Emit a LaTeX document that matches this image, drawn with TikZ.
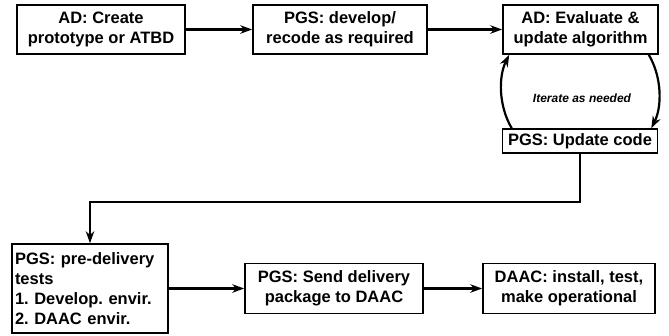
\documentclass[tikz,border=0pt]{standalone}
\usepackage{fontspec}
\setmainfont{Liberation Sans}
\usetikzlibrary{arrows.meta}
\frenchspacing
\begin{document}
\begin{tikzpicture}[x=1pt,y=-1pt,
  box/.style={draw,line width=1.6pt,font=\bfseries\fontsize{16.5}{20}\selectfont,align=center,inner sep=2pt},
  conn/.style={line width=2.2pt,-{Stealth[length=12pt,width=8.5pt]}},
  lbl/.style={font=\bfseries\itshape\fontsize{12}{14}\selectfont}
]
\useasboundingbox (0,0) rectangle (669,335);
\node[box,minimum width=168pt,minimum height=49pt] (b1) at (101,29.5) {AD: Create\\prototype or ATBD};
\node[box,minimum width=174pt,minimum height=49pt] (b2) at (340,29.5) {PGS: develop/\\recode as required};
\node[box,minimum width=155pt,minimum height=49pt] (b3) at (580.5,29.5) {AD: Evaluate \&\\update algorithm};
\node[box,minimum width=155pt,minimum height=24pt] (upd) at (580,141) {PGS: Update code};
\node[box,minimum width=156pt,minimum height=89pt,align=left,text width=150pt,inner xsep=3pt] (b4) at (90,288.5) {PGS: pre-delivery\\tests\\1. Develop. envir.\\2. DAAC envir.};
\node[box,minimum width=178pt,minimum height=50pt] (b5) at (334,288.5) {PGS: Send delivery\\package to DAAC};
\node[box,minimum width=172pt,minimum height=50pt] (b6) at (569,288.5) {DAAC: install, test,\\make operational};
\node[lbl] (it) at (582,98) {Iterate as needed};
\coordinate (turn) at (582,202);

\draw[conn] (b1.east) -- (b2.west);
\draw[conn] (b2.east) -- (b3.west);
\draw[conn] ([xshift=10pt]upd.north west) .. controls +(-13,-22) and +(-11,22) .. ([xshift=7pt]b3.south west);
\draw[conn] ([xshift=-10pt]b3.south east) .. controls +(13,22) and +(11,-22) .. ([xshift=-7pt]upd.north east);
\draw[conn] (upd.south) -- (upd.south |- turn) -| (b4.north);
\draw[conn] (b4.east) -- (b5.west);
\draw[conn] (b5.east) -- (b6.west);
\end{tikzpicture}
\end{document}
